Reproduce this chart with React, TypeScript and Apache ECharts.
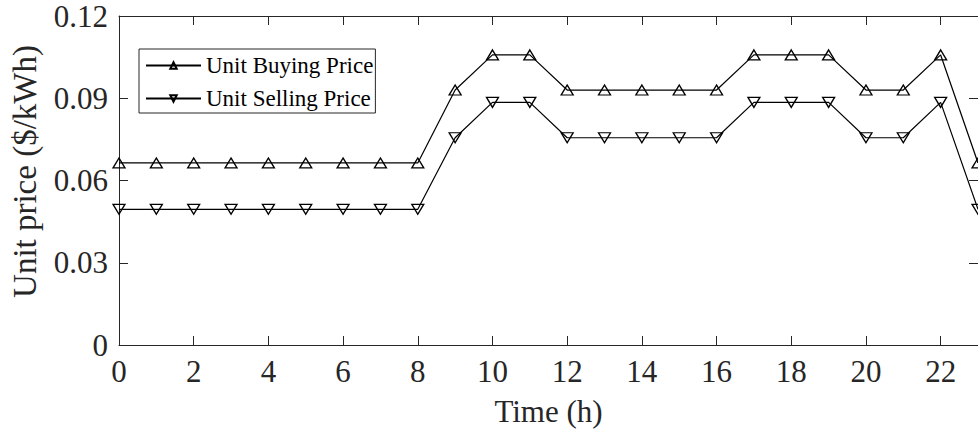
import React, { useEffect, useRef } from "react";
import * as echarts from "echarts";

const hours = [0, 1, 2, 3, 4, 5, 6, 7, 8, 9, 10, 11, 12, 13, 14, 15, 16, 17, 18, 19, 20, 21, 22, 23];
const buyingPrice = [
  0.0664, 0.0664, 0.0664, 0.0664, 0.0664, 0.0664, 0.0664, 0.0664, 0.0664,
  0.093, 0.1058, 0.1058, 0.093, 0.093, 0.093, 0.093, 0.093,
  0.1058, 0.1058, 0.1058, 0.093, 0.093, 0.1058, 0.0664,
];
const sellingPrice = [
  0.0495, 0.0495, 0.0495, 0.0495, 0.0495, 0.0495, 0.0495, 0.0495, 0.0495,
  0.0756, 0.0885, 0.0885, 0.0756, 0.0756, 0.0756, 0.0756, 0.0756,
  0.0885, 0.0885, 0.0885, 0.0756, 0.0756, 0.0885, 0.0495,
];
const seriesNames = ["Unit Buying Price", "Unit Selling Price"];
const xAxisTitle = "Time (h)";
const yAxisTitle = "Unit price ($/kWh)";

const FONT = "'Liberation Serif', 'Times New Roman', serif";
const AX = "#262626";

export default function App() {
  const ref = useRef<HTMLDivElement>(null);
  useEffect(() => {
    if (!ref.current) return;
    const chart = echarts.init(ref.current, undefined, { renderer: "svg" });
    const tick = { show: true, inside: true, length: 9, lineStyle: { color: AX, width: 1 } };
    const axisLine = { show: true, onZero: false, lineStyle: { color: AX, width: 1 } };
    const mk = (name: string, vals: number[], rotate: number) => ({
      name,
      type: "line",
      data: hours.map((h, i) => [h, vals[i]]),
      symbol: "triangle",
      symbolSize: [12, 10],
      symbolRotate: rotate,
      showSymbol: true,
      lineStyle: { color: "#000", width: 1.2 },
      itemStyle: { color: "rgba(255,255,255,0)", borderColor: "#000", borderWidth: 1.3 },
      emphasis: { disabled: true },
      clip: false,
      z: 3,
    });
    chart.setOption({
      animation: false,
      backgroundColor: "#fff",
      textStyle: { fontFamily: FONT },
      grid: { left: 111, top: 16, width: 872, height: 330 },
      legend: {
        left: 139,
        top: 49,
        orient: "vertical",
        backgroundColor: "#fff",
        borderColor: AX,
        borderWidth: 1,
        padding: [5, 2, 3, 6],
        itemGap: 10,
        itemWidth: 55,
        itemHeight: 8,
        selectedMode: false,
        textStyle: { fontFamily: FONT, fontSize: 23, color: "#000" },
        data: seriesNames,
      },
      xAxis: [
        {
          type: "value",
          min: 0,
          max: 23,
          interval: 2,
          position: "bottom",
          name: xAxisTitle,
          nameLocation: "middle",
          nameGap: 51,
          nameTextStyle: { fontFamily: FONT, fontSize: 31, color: AX },
          axisLine,
          axisTick: tick,
          splitLine: { show: false },
          axisLabel: { fontFamily: FONT, fontSize: 31, color: AX, margin: 11, showMaxLabel: false },
        },
        {
          type: "value",
          min: 0,
          max: 23,
          interval: 2,
          position: "top",
          axisLine,
          axisTick: tick,
          splitLine: { show: false },
          axisLabel: { show: false },
        },
      ],
      yAxis: [
        {
          type: "value",
          min: 0,
          max: 0.12,
          interval: 0.03,
          position: "left",
          name: yAxisTitle,
          nameLocation: "middle",
          nameGap: 78,
          nameTextStyle: { fontFamily: FONT, fontSize: 33, color: AX, padding: [0, 0, 0, 18] },
          axisLine,
          axisTick: tick,
          splitLine: { show: false },
          axisLabel: { fontFamily: FONT, fontSize: 31, color: AX, margin: 11 },
        },
        {
          type: "value",
          min: 0,
          max: 0.12,
          interval: 0.03,
          position: "right",
          axisLine,
          axisTick: tick,
          splitLine: { show: false },
          axisLabel: { show: false },
        },
      ],
      series: [mk(seriesNames[0], buyingPrice, 0), mk(seriesNames[1], sellingPrice, 180)],
    });
    return () => chart.dispose();
  }, []);
  return (
    <div
      ref={ref}
      style={{ position: "fixed", left: 0, top: 0, width: 978, height: 432, overflow: "hidden" }}
    />
  );
}
